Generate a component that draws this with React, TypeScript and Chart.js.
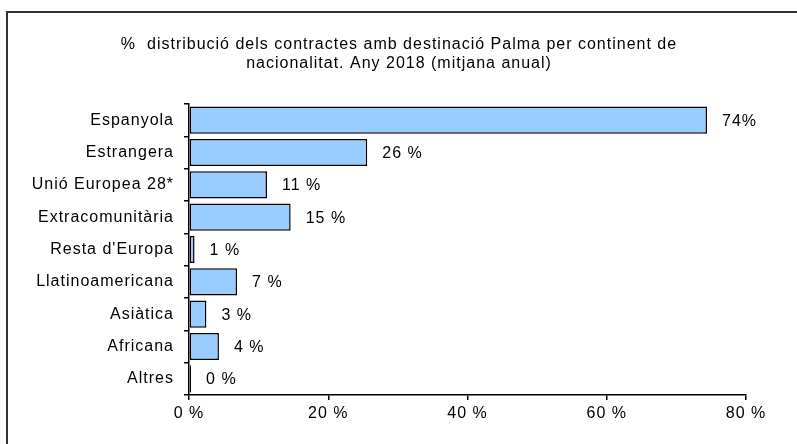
import React, { useEffect, useRef } from "react";
import { Chart, registerables } from "chart.js";

Chart.register(...registerables);

const titleLines = [
  "%  distribució dels contractes amb destinació Palma per continent de",
  "nacionalitat. Any 2018 (mitjana anual)",
];
const categories = [
  "Espanyola",
  "Estrangera",
  "Unió Europea 28*",
  "Extracomunitària",
  "Resta d'Europa",
  "Llatinoamericana",
  "Asiàtica",
  "Africana",
  "Altres",
];
const values = [74.4, 25.6, 11.2, 14.6, 0.8, 6.9, 2.5, 4.3, 0.3];
const valueLabels = ["74%", "26 %", "11 %", "15 %", "1 %", "7 %", "3 %", "4 %", "0 %"];
const xTicks = [0, 20, 40, 60, 80];

const FONT = "'Liberation Sans', Arial, sans-serif";

export default function App() {
  const ref = useRef<HTMLCanvasElement | null>(null);
  useEffect(() => {
    if (!ref.current) return;
    const decor = {
      id: "decor",
      beforeLayout(chart: any) {
        chart.ctx.letterSpacing = "1px";
      },
      beforeDraw(chart: any) {
        const ctx = chart.ctx;
        ctx.letterSpacing = "1px";
        ctx.save();
        ctx.fillStyle = "#fff";
        ctx.fillRect(0, 0, chart.width, chart.height);
        ctx.strokeStyle = "#333";
        ctx.lineWidth = 2;
        ctx.strokeRect(7, 12, 1000, 1000);
        ctx.fillStyle = "#000";
        ctx.font = `16px ${FONT}`;
        ctx.textAlign = "center";
        ctx.textBaseline = "middle";
        ctx.fillText(titleLines[0], 399, 45);
        ctx.fillText(titleLines[1], 399, 64);
        ctx.restore();
      },
      afterDatasetsDraw(chart: any) {
        const ctx = chart.ctx;
        const meta = chart.getDatasetMeta(0);
        ctx.save();
        ctx.fillStyle = "#000";
        ctx.font = `16px ${FONT}`;
        ctx.letterSpacing = "1px";
        ctx.textAlign = "left";
        ctx.textBaseline = "middle";
        meta.data.forEach((el: any, i: number) => {
          ctx.fillText(valueLabels[i], el.x + 15, el.y + 1);
        });
        ctx.restore();
      },
    };
    const chart = new Chart(ref.current, {
      type: "bar",
      data: {
        labels: categories,
        datasets: [
          {
            data: values,
            backgroundColor: "#99CCFF",
            borderColor: "#000",
            borderWidth: 1.5,
            borderSkipped: false,
            barPercentage: 0.84,
            categoryPercentage: 1,
          },
        ],
      },
      options: {
        indexAxis: "y",
        responsive: false,
        animation: false,
        layout: { padding: { left: 0, right: 51, top: 104, bottom: 19 } },
        plugins: { legend: { display: false }, tooltip: { enabled: false }, title: { display: false } },
        scales: {
          x: {
            min: 0,
            max: 80,
            afterBuildTicks: (s: any) => {
              s.ticks = xTicks.map((v) => ({ value: v }));
            },
            afterFit: (s: any) => {
              s.height = 30;
            },
            ticks: {
              color: "#000",
              font: { family: FONT, size: 16 },
              padding: 4,
              callback: (v: any) => `${v} %`,
              maxRotation: 0,
            },
            grid: { drawOnChartArea: false, color: "#000", tickLength: 5, lineWidth: 1.5 },
            border: { color: "#000", width: 1.5 },
          },
          y: {
            offset: true,
            afterFit: (s: any) => {
              s.width = 189;
            },
            ticks: { color: "#000", font: { family: FONT, size: 16 }, padding: 10 },
            grid: { drawOnChartArea: false, offset: true, color: "#000", tickLength: 5, lineWidth: 1.5 },
            border: { color: "#000", width: 1.5 },
          },
        },
      },
      plugins: [decor],
    });
    return () => chart.destroy();
  }, []);
  return (
    <div style={{ position: "fixed", left: 0, top: 0, width: 797, height: 444, background: "#fff" }}>
      <canvas ref={ref} width={797} height={444} style={{ width: 797, height: 444 }} />
    </div>
  );
}
